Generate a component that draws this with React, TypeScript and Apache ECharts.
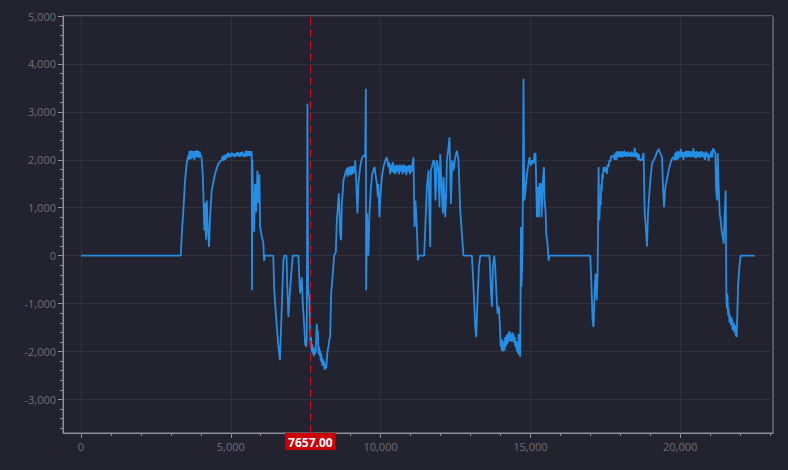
import React, { useEffect, useRef } from "react";
import * as echarts from "echarts";

const X_MIN = -600;
const X_MAX = 23100;
const Y_MIN = -3700;
const Y_MAX = 5000;

const xLabelTicks = [0, 5000, 10000, 15000, 20000];
const xMinorTicks = [0, 1000, 2000, 3000, 4000, 5000, 6000, 7000, 8000, 9000, 10000, 11000, 12000, 13000, 14000, 15000, 16000, 17000, 18000, 19000, 20000, 21000, 22000, 23000];
const yLabelTicks = [-3000, -2000, -1000, 0, 1000, 2000, 3000, 4000, 5000];
const yMinorStep = 200;

const cursorValue = 7657;

const idleStart: number[][] = [[0, 0], [3330, 0]];

const cycle1: number[][] = [
  [3373, 527], [3418, 940], [3474, 1570], [3529, 1920], [3585, 2090],
  [3600, 2000], [3620, 2180], [3640, 2010], [3660, 2190], [3690, 2020], [3710, 2180], [3740, 2050], [3760, 2180],
  [3790, 2000], [3810, 2180], [3840, 2050], [3860, 2200], [3890, 2060], [3910, 2180], [3940, 2040], [3960, 2170],
  [3990, 2070], [4010, 2100], [4031, 2000], [4064, 1700], [4085, 1300], [4118, 525], [4141, 1100], [4175, 330],
  [4198, 1150], [4231, 600], [4275, 180], [4309, 800], [4364, 1360], [4476, 1710], [4586, 1920], [4699, 2000],
  [4730, 2080], [4760, 1980], [4790, 2100], [4820, 2000], [4850, 2120], [4880, 2040], [4910, 2150], [4940, 2050],
  [4970, 2130], [5000, 2060], [5030, 2150], [5060, 2080], [5090, 2130], [5120, 2060], [5150, 2130], [5180, 2070],
  [5210, 2160], [5240, 2080], [5270, 2150], [5300, 2060], [5330, 2160], [5360, 2080], [5390, 2170], [5420, 2070],
  [5450, 2130], [5480, 2060], [5510, 2190], [5540, 2070], [5570, 2180], [5600, 2080], [5630, 2180], [5660, 2070],
  [5690, 2180], [5701, 2100], [5710, -720], [5720, 2000], [5750, 1100], [5780, 500], [5812, 1500], [5845, 900],
  [5889, 1770], [5912, 1100], [5956, 1700], [5979, 600], [6035, 400], [6089, 260], [6112, -110], [6130, 0],
];

const dip1: number[][] = [
  [6420, 0], [6450, -720], [6530, -1420], [6580, -1830], [6640, -2180], [6703, -1070], [6757, -100], [6790, 0],
  [6860, 0], [6890, -700], [6925, -1280], [6980, -700], [7037, -240], [7071, 0], [7259, 0], [7281, -375],
  [7315, -790], [7371, -450], [7404, -1000], [7448, -1420], [7482, -1840], [7515, -1900], [7537, -1770],
  [7559, 3170], [7582, -720], [7626, -930], [7649, -1490], [7665, -1900], [7682, -1700], [7700, -2000],
  [7715, -1850], [7735, -2050], [7759, -1900], [7775, -2100], [7793, -1950], [7815, -2050], [7838, -1980],
  [7855, -1700], [7872, -1420], [7890, -1700], [7905, -1560], [7927, -2050], [7950, -1900], [7970, -2100],
  [7983, -1980], [8005, -2200], [8020, -2050], [8039, -2180], [8060, -2300], [8075, -2150], [8093, -2290],
  [8110, -2200], [8130, -2380], [8150, -2350], [8170, -2250], [8190, -2350], [8206, -2180], [8230, -2000],
  [8260, -1900], [8290, -1750], [8317, -1700], [8350, -790], [8407, -375], [8450, 0],
];

const cycle2: number[][] = [
  [8507, 70], [8540, 730], [8574, 1010], [8607, 1300], [8628, 940], [8651, 450], [8684, 320], [8707, 1080],
  [8741, 1360], [8761, 1570], [8818, 1700], [8874, 1820], [8900, 1650], [8920, 1850], [8940, 1680], [8960, 1860],
  [8980, 1700], [9000, 1850], [9020, 1680], [9040, 1870], [9060, 1700], [9080, 1860], [9100, 1720], [9120, 1880],
  [9140, 1750], [9152, 1985], [9185, 1570], [9229, 880], [9262, 1500], [9319, 1850], [9375, 2030], [9430, 2090],
  [9486, 2070], [9509, 3480], [9519, -720], [9552, 880], [9596, 0], [9629, 880], [9676, 1400], [9719, 1700],
  [9764, 1790], [9797, 1850], [9843, 1640], [9877, 1500], [9910, 1220], [9930, 1500], [9963, 800], [9987, 1150],
  [10043, 1640], [10097, 1850], [10154, 1980], [10210, 2050], [10264, 1850], [10290, 1950], [10320, 1700],
  [10350, 1900], [10380, 1750], [10410, 1950], [10440, 1720], [10470, 1880], [10500, 1700], [10530, 1900],
  [10560, 1750], [10590, 1880], [10620, 1700], [10650, 1900], [10680, 1760], [10710, 1880], [10740, 1700],
  [10770, 1900], [10800, 1740], [10830, 1880], [10860, 1680], [10890, 1870], [10920, 1760], [10950, 1890],
  [10980, 1700], [11010, 1880], [11040, 1750], [11070, 1950], [11099, 2050], [11133, 600], [11166, 1150],
  [11212, 580], [11246, -100], [11266, 0],
];

const cycle3: number[][] = [
  [11456, 0], [11490, 527], [11546, 1430], [11600, 1780], [11657, 180], [11680, 1780], [11713, 1850],
  [11767, 1990], [11800, 1950], [11833, 1150], [11880, 1990], [11934, 1780], [11966, 1010], [11991, 2120],
  [12047, 1290], [12080, 880], [12101, 1640], [12158, 800], [12191, 1290], [12214, 1990], [12268, 2260],
  [12301, 2470], [12348, 1080], [12391, 1990], [12435, 1780], [12492, 2050], [12548, 2190], [12602, 1990],
  [12659, 950], [12715, 460], [12769, 0],
];

const dip2: number[][] = [
  [13049, 0], [13103, -650], [13160, -1490], [13193, -1700], [13236, -930], [13283, -240], [13327, 0],
  [13637, 0], [13684, -720], [13717, -1070], [13750, -240], [13794, 0], [13828, -240], [13861, -720],
  [13905, -1210], [13951, -1060], [13995, -1630], [14010, -1900], [14028, -1840], [14045, -1980],
  [14060, -1750], [14085, -1900], [14100, -2000], [14120, -1800], [14138, -1980], [14160, -1700],
  [14180, -1900], [14195, -1770], [14215, -1650], [14235, -1850], [14252, -1630], [14270, -1800],
  [14290, -1580], [14305, -1760], [14320, -1600], [14340, -1780], [14362, -1630], [14380, -1800],
  [14400, -1600], [14419, -1780], [14440, -1640], [14460, -1820], [14480, -1700], [14500, -1900],
  [14529, -1780], [14550, -2000], [14572, -1850], [14590, -2050], [14610, -1630], [14625, -1950],
  [14639, -2050], [14663, -2110], [14686, 600], [14706, -650], [14739, 180],
];

const cycle4: number[][] = [
  [14773, 3690], [14796, 1150], [14830, 1290], [14863, 1570], [14906, 1780], [14940, 1920], [14973, 2050],
  [15020, 1880], [15053, 1990], [15107, 1920], [15140, 2130], [15174, 2130], [15197, 1430], [15220, 800],
  [15253, 1430], [15287, 800], [15307, 1500], [15354, 1500], [15374, 800], [15421, 1570], [15454, 1850],
  [15474, 1150], [15508, 940], [15531, 450], [15574, 250], [15608, -100], [15641, 0], [17001, 0],
];

const dip3: number[][] = [
  [17034, -515], [17078, -1350], [17111, -1490], [17144, -790], [17178, -375], [17212, -930], [17245, -375],
];

const cycle5: number[][] = [
  [17278, 1850], [17301, 735], [17335, 1220], [17350, 1050], [17368, 1500], [17385, 1350], [17401, 1710],
  [17420, 1600], [17446, 1850], [17470, 1750], [17502, 1850], [17530, 1780], [17558, 1710], [17585, 1900],
  [17612, 1850], [17640, 1990], [17669, 1960], [17700, 2080], [17725, 2060], [17779, 2100], [17810, 2000],
  [17840, 2150], [17870, 2000], [17900, 2180], [17930, 2050], [17960, 2170], [17990, 2060], [18020, 2180],
  [18050, 2050], [18080, 2170], [18110, 2060], [18140, 2190], [18170, 2070], [18200, 2160], [18230, 2060],
  [18260, 2170], [18290, 2080], [18320, 2150], [18350, 2060], [18380, 2170], [18410, 2070], [18440, 2150],
  [18470, 2060], [18480, 2250], [18500, 2160], [18530, 2050], [18560, 2150], [18590, 2000], [18620, 2120],
  [18650, 1990], [18727, 2000], [18781, 2140], [18814, 940], [18862, 520], [18894, 190], [18928, 880],
  [18971, 1290], [19005, 1570], [19061, 1920], [19115, 1990], [19172, 2060], [19228, 2160], [19282, 2230],
  [19339, 2130], [19395, 2060], [19429, 1430], [19462, 1010], [19506, 1430], [19562, 1600], [19616, 1780],
  [19673, 1920], [19729, 2020], [19783, 2060], [19810, 1990], [19840, 2150], [19870, 2000], [19900, 2180],
  [19930, 2010], [19960, 2170], [19990, 2050], [20020, 2230], [20050, 2060], [20080, 2170], [20110, 2000],
  [20140, 2160], [20170, 2060], [20200, 2190], [20230, 2050], [20260, 2180], [20290, 2060], [20320, 2180],
  [20350, 2050], [20380, 2170], [20410, 2060], [20440, 2240], [20470, 2050], [20500, 2170], [20530, 2030],
  [20560, 2180], [20590, 2060], [20620, 2160], [20650, 2040], [20680, 2180], [20710, 2060], [20740, 2170],
  [20770, 2050], [20800, 2150], [20830, 2000], [20860, 2170], [20890, 2060], [20920, 2140], [20950, 1970],
  [20980, 2100], [21010, 2050], [21040, 2180], [21070, 2050], [21100, 2240], [21176, 2140], [21198, 1430],
  [21232, 1150], [21254, 2140], [21287, 1430], [21321, 870], [21354, 730], [21388, 520], [21421, 390],
  [21454, 250], [21488, 870], [21521, 1360],
];

const dip4: number[][] = [
  [21543, -860], [21560, -1100], [21575, -800], [21587, -930], [21600, -1250], [21615, -1100], [21633, -1210],
  [21650, -1400], [21665, -1250], [21677, -1280], [21700, -1450], [21715, -1300], [21733, -1350],
  [21750, -1550], [21770, -1400], [21787, -1420], [21805, -1600], [21825, -1450], [21844, -1490],
  [21860, -1680], [21877, -1630], [21890, -1700], [21900, -1420], [21933, -650], [21977, -240],
  [22021, 0], [22488, 0],
];

const signal = [
  ...idleStart, ...cycle1, ...dip1, ...cycle2, ...cycle3, ...dip2, ...cycle4, ...dip3, ...cycle5, ...dip4,
];

const BG = "#23232f";
const LINE = "#248de4";
const AXIS = "#8e8e98";
const LABEL = "#6e6e7a";
const SPLIT = "#31313d";
const FONT = "'Open Sans', 'Noto Sans', sans-serif";

export default function App() {
  const ref = useRef<HTMLDivElement>(null);
  useEffect(() => {
    if (!ref.current) return;
    const chart = echarts.init(ref.current, null, { renderer: "svg" });
    const yMinor: number[] = [];
    for (let v = -3600; v <= Y_MAX; v += yMinorStep) yMinor.push(v);
    const fmt = (v: number) => v.toLocaleString("en-US");
    chart.setOption({
      animation: false,
      backgroundColor: BG,
      textStyle: { fontFamily: FONT },
      grid: {
        left: 63, right: 15, top: 16, bottom: 37, containLabel: false,
        show: true, borderColor: AXIS, borderWidth: 1, backgroundColor: "transparent",
      },
      xAxis: [
        {
          type: "value", min: X_MIN, max: X_MAX, position: "bottom",
          axisLine: { show: true, onZero: false, lineStyle: { color: AXIS } },
          axisTick: { show: true, length: 5, customValues: xLabelTicks, lineStyle: { color: AXIS } },
          axisLabel: { show: true, customValues: xLabelTicks, color: LABEL, fontSize: 11, margin: 8, formatter: fmt },
          splitLine: { show: true, lineStyle: { color: SPLIT } },
        },
        {
          type: "value", min: X_MIN, max: X_MAX, position: "bottom",
          axisLine: { show: false, onZero: false },
          axisTick: { show: true, length: 3, customValues: xMinorTicks, lineStyle: { color: AXIS } },
          axisLabel: { show: false },
          splitLine: { show: false },
        },
      ],
      yAxis: [
        {
          type: "value", min: Y_MIN, max: Y_MAX, position: "left",
          axisLine: { show: true, onZero: false, lineStyle: { color: AXIS } },
          axisTick: { show: true, length: 5, customValues: yLabelTicks, lineStyle: { color: AXIS } },
          axisLabel: { show: true, customValues: yLabelTicks, color: LABEL, fontSize: 11, margin: 7, formatter: fmt },
          splitLine: { show: true, lineStyle: { color: SPLIT } },
        },
        {
          type: "value", min: Y_MIN, max: Y_MAX, position: "left",
          axisLine: { show: false, onZero: false },
          axisTick: { show: true, length: 3, customValues: yMinor, lineStyle: { color: AXIS } },
          axisLabel: { show: false },
          splitLine: { show: false },
        },
      ],
      series: [
        {
          type: "line",
          xAxisIndex: 0,
          yAxisIndex: 0,
          data: signal,
          showSymbol: false,
          symbol: "none",
          lineStyle: { color: LINE, width: 1.8 },
          itemStyle: { color: LINE },
          markLine: {
            silent: true,
            symbol: ["none", "none"],
            animation: false,
            lineStyle: { color: "#d0101a", type: [8, 4], width: 1 },
            label: {
              show: true,
              position: "start",
              distance: 0,
              formatter: (p: any) => Number(p.value).toFixed(2),
              color: "#ffffff",
              backgroundColor: "#cc0000",
              fontWeight: "bold",
              fontSize: 12,
              padding: [3, 3, 2, 3],
              fontFamily: FONT,
            },
            data: [{ xAxis: cursorValue }],
          },
        },
      ],
    });
    return () => chart.dispose();
  }, []);
  return (
    <div
      ref={ref}
      style={{ position: "fixed", left: 0, top: 0, width: 788, height: 470 }}
    />
  );
}
